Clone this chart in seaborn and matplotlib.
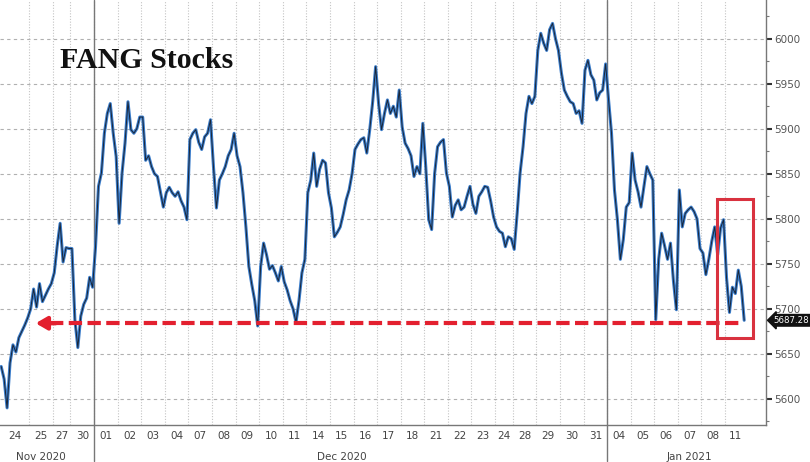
import numpy as np
import pandas as pd
import matplotlib.pyplot as plt
import matplotlib.patches as mpatches
import matplotlib.transforms as mtransforms
from matplotlib.ticker import MultipleLocator
import seaborn as sns

sns.set_theme(style="white")
plt.rcParams['font.family'] = ['DejaVu Sans']

# trading days shown on the axis
day_labels = ["24", "25", "27", "30",
              "01", "02", "03", "04", "07", "08", "09", "10", "11", "14", "15", "16", "17", "18",
              "21", "22", "23", "24", "28", "29", "30", "31",
              "04", "05", "06", "07", "08", "11"]
month_labels = ["Nov 2020", "Dec 2020", "Jan 2021"]
month_label_day = [1, 14, 29]      # day under which the month name sits
month_start_day = [4, 26]          # first day of a new month (separator)

# intraday prices, one list per day
prices = [
    [5636, 5622, 5590, 5640, 5660, 5652, 5668, 5675, 5682, 5690],
    [5700, 5722, 5702, 5728, 5708, 5715, 5722, 5728],
    [5740, 5770, 5795, 5752, 5768, 5767],
    [5767, 5688, 5657, 5692, 5705, 5712, 5735, 5724],
    [5769, 5836, 5851, 5895, 5917, 5928, 5895, 5869],
    [5795, 5851, 5884, 5930, 5899, 5895, 5900, 5913],
    [5913, 5865, 5870, 5858, 5850, 5847, 5830, 5813],
    [5829, 5835, 5829, 5825, 5830, 5820, 5813, 5799],
    [5888, 5895, 5899, 5885, 5877, 5891, 5895, 5910],
    [5858, 5812, 5843, 5850, 5858, 5870, 5877, 5895],
    [5870, 5858, 5829, 5791, 5747, 5727, 5709, 5681],
    [5747, 5773, 5760, 5744, 5748, 5740, 5731, 5747],
    [5730, 5721, 5709, 5700, 5685, 5709, 5740, 5755],
    [5829, 5843, 5873, 5836, 5855, 5865, 5862, 5829],
    [5812, 5780, 5785, 5791, 5805, 5821, 5832, 5850],
    [5877, 5883, 5888, 5890, 5873, 5899, 5930, 5969],
    [5928, 5899, 5917, 5932, 5917, 5925, 5913, 5943],
    [5902, 5884, 5878, 5870, 5847, 5858, 5850, 5906],
    [5858, 5799, 5788, 5850, 5880, 5885, 5888, 5851],
    [5836, 5802, 5815, 5821, 5810, 5813, 5825, 5836],
    [5816, 5806, 5825, 5830, 5836, 5835, 5820, 5802],
    [5791, 5786, 5784, 5769, 5780, 5778],
    [5766, 5806, 5851, 5880, 5917, 5936, 5928, 5936],
    [5987, 6006, 5995, 5987, 6010, 6017, 6000, 5987],
    [5962, 5943, 5936, 5930, 5928, 5917, 5920, 5906],
    [5965, 5976, 5960, 5954, 5932, 5940, 5943, 5972],
    [5932, 5895, 5832, 5799, 5755, 5777, 5813, 5818],
    [5873, 5843, 5830, 5813, 5836, 5858, 5850, 5843],
    [5688, 5755, 5784, 5770, 5755, 5773, 5731, 5699],
    [5832, 5791, 5806, 5810, 5813, 5808, 5800, 5767],
    [5762, 5738, 5755, 5775, 5791, 5760, 5790, 5799],
    [5735, 5696, 5724, 5717, 5743, 5725, 5687.28],
]
last_price = 5687.28
support_level = 5684
box_low, box_high = 5668, 5822

rows = []
for d, day in enumerate(prices):
    for p in day:
        rows.append({"day": d, "price": p})
df = pd.DataFrame(rows)
df["idx"] = np.arange(len(df))

counts = df.groupby("day").size().values
ends = np.cumsum(counts) - 0.5
starts = ends - counts
centers = (starts + ends) / 2

fig = plt.figure(figsize=(8.1, 4.62), dpi=100)
ax = fig.add_axes([0.0, 0.0801, 0.9457, 0.9199])

# grid
for b in ends[:-1]:
    ax.axvline(b, color="#c4c4c4", lw=0.8, ls=(0, (1, 1.5)), zorder=0)
for yv in range(5600, 6001, 50):
    ax.axhline(yv, color="#b0b0b0", lw=0.8, ls=(0, (3, 3)), zorder=0)

sns.lineplot(data=df, x="idx", y="price", color="#3a7cca", lw=2.2, ax=ax, zorder=3)
sns.lineplot(data=df, x="idx", y="price", color="#1a2536", lw=0.7, ax=ax, zorder=4)

ax.set_xlim(-0.4, 259.4)
ax.set_ylim(5571, 6043)

# red dashed support arrow
last_idx = df["idx"].iloc[-1]
ax.plot([starts[0] + 17, last_idx - 0.7], [support_level, support_level],
        color="#e3202f", lw=3.0, ls=(0, (3.2, 1.3)), zorder=5, solid_capstyle="butt")
ax.annotate("", xy=(starts[0] + 12.2, support_level), xytext=(starts[0] + 19, support_level),
            arrowprops=dict(arrowstyle="-|>,head_length=0.55,head_width=0.32",
                            color="#e3202f", lw=3.0, shrinkA=0, shrinkB=0), zorder=6)

# red box around last days
ax.add_patch(mpatches.Rectangle((starts[-2] + 5.3, box_low), 12.2, box_high - box_low,
                                fill=False, ec="#d9323f", lw=2.2, zorder=6))

ax.text(0.078, 0.857, "FANG Stocks", transform=ax.transAxes, fontsize=21.5,
        fontweight="bold", family=["Liberation Serif", "DejaVu Serif"], color="#111111",
        va="center", ha="left")

# axes style
for s in ["left", "top"]:
    ax.spines[s].set_visible(False)
for s in ["right", "bottom"]:
    ax.spines[s].set_color("#777777")
    ax.spines[s].set_linewidth(1.0)

ax.yaxis.tick_right()
ax.yaxis.set_minor_locator(MultipleLocator(25))
ax.set_yticks(range(5600, 6001, 50))
ax.tick_params(axis="y", which="major", length=4, width=1.5, color="#333333",
               labelsize=7.5, labelcolor="#555555", pad=2, right=True)
ax.tick_params(axis="y", which="minor", length=2, width=0.8, color="#777777", right=True)

ax.set_xticks(centers)
ax.set_xticklabels(day_labels)
ax.tick_params(axis="x", length=0, labelsize=7.5, labelcolor="#444444", pad=4)
ax.set_xlabel("")
ax.set_ylabel("")

trans = mtransforms.blended_transform_factory(ax.transData, ax.transAxes)
for lab, d in zip(month_labels, month_label_day):
    ax.text(centers[d], -0.075, lab, transform=trans, fontsize=7.5, color="#444444",
            ha="center", va="center")
for d in month_start_day:
    ax.plot([starts[d], starts[d]], [-0.085, 1.0], transform=trans, color="#777777",
            lw=1.0, clip_on=False, zorder=2)

# last value tag
ax.annotate(f"{last_price:.2f}", xy=(1.0, last_price), xycoords=ax.get_yaxis_transform(),
            xytext=(5.5, 0), textcoords="offset points", fontsize=6.2, color="white",
            va="center", ha="left",
            bbox=dict(boxstyle="larrow,pad=0.15", fc="#111111", ec="#111111"),
            annotation_clip=False)

fig.savefig("out.png", dpi=100)
